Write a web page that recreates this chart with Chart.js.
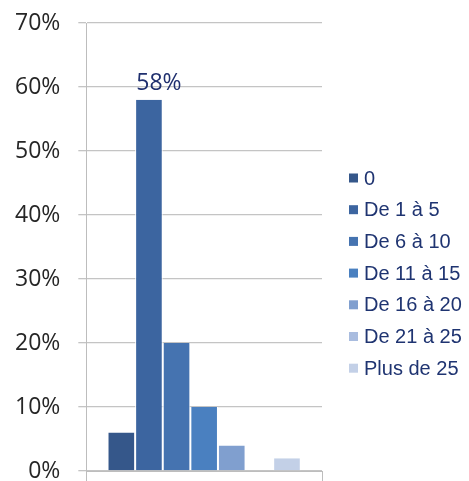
<!DOCTYPE html>
<html>
<head>
<meta charset="utf-8">
<script src="https://cdn.jsdelivr.net/npm/chart.js@4.4.0/dist/chart.umd.min.js"></script>
<style>
  html, body { margin: 0; padding: 0; background: #fff; }
  #wrap { width: 469px; height: 481px; position: relative; }
</style>
</head>
<body>
<div id="wrap"><canvas id="chart"></canvas></div>
<script>
// --- Data ---
const categories = ['0', 'De 1 à 5', 'De 6 à 10', 'De 11 à 15', 'De 16 à 20', 'De 21 à 25', 'Plus de 25'];
const values = [6, 58, 20, 10, 4, 0, 2];
const barColors = ['#35578a', '#3c65a0', '#4573b0', '#4a80c0', '#809fcf', '#a9bcdf', '#c3d0e7'];
const yTicks = [0, 10, 20, 30, 40, 50, 60, 70];
const labelledIndex = 1;

const datasets = categories.map((name, i) => ({
    label: name,
    data: [values[i]],
    backgroundColor: barColors[i],
    borderColor: '#ffffff',
    borderWidth: { left: 1, right: 1, top: 0, bottom: 0 },
    borderSkipped: false
}));

// value label above the tallest bar
const valueLabel = {
    id: 'valueLabel',
    afterDatasetsDraw(chart) {
        const bar = chart.getDatasetMeta(labelledIndex).data[0];
        if (!bar) return;
        const ctx = chart.ctx;
        ctx.save();
        ctx.font = '23px "Open Sans"';
        ctx.fillStyle = '#1f2f6e';
        ctx.textAlign = 'center';
        ctx.textBaseline = 'bottom';
        ctx.fillText(values[labelledIndex] + '%', bar.x + 10, bar.y - 5);
        ctx.restore();
    }
};

// legend drawn on the right, from the datasets
const sideLegend = {
    id: 'sideLegend',
    afterDraw(chart) {
        const ctx = chart.ctx;
        const x0 = chart.chartArea.right + 27;
        const yStart = 178;
        const step = 31.7;
        ctx.save();
        ctx.font = '20px "Liberation Sans"';
        ctx.textBaseline = 'middle';
        ctx.textAlign = 'left';
        chart.data.datasets.forEach((ds, i) => {
            const y = yStart + i * step;
            ctx.fillStyle = ds.backgroundColor;
            ctx.fillRect(x0, y - 4.5, 9, 9);
            ctx.fillStyle = '#1f3471';
            ctx.fillText(ds.label, x0 + 15, y + 1);
        });
        ctx.restore();
    }
};

new Chart(document.getElementById('chart'), {
    type: 'bar',
    data: { labels: [''], datasets: datasets },
    options: {
        responsive: true,
        maintainAspectRatio: false,
        animation: false,
        datasets: { bar: { categoryPercentage: 0.82, barPercentage: 1 } },
        layout: { padding: { top: 23, left: -3, right: 147, bottom: 0 } },
        scales: {
            x: {
                offset: true,
                grid: { display: true, offset: true, drawOnChartArea: false, drawTicks: true, tickLength: 10, color: '#bdbdbd' },
                border: { display: true, color: '#bdbdbd' },
                ticks: { display: false }
            },
            y: {
                min: 0,
                max: 70,
                afterBuildTicks(axis) { axis.ticks = yTicks.map(v => ({ value: v })); },
                afterFit(axis) { axis.paddingTop = 0; axis.paddingBottom = 0; },
                grid: { color: '#c4c4c4', tickLength: 8, lineWidth: 1.3 },
                border: { display: true, color: '#bdbdbd' },
                ticks: {
                    padding: 18,
                    color: '#262626',
                    font: { family: '"Open Sans"', size: 23 },
                    callback: v => v + '%'
                }
            }
        },
        plugins: {
            tooltip: { enabled: false },
            legend: { display: false }
        }
    },
    plugins: [valueLabel, sideLegend]
});
</script>
</body>
</html>
